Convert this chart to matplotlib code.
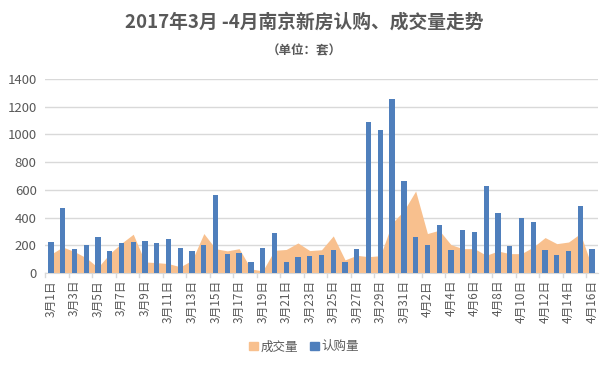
import matplotlib
matplotlib.use("Agg")
import matplotlib.pyplot as plt
import numpy as np
from matplotlib.patches import Patch

plt.rcParams['font.family'] = ['Noto Sans CJK SC', 'DejaVu Sans']

dates = [f"3月{d}日" for d in range(1, 32)] + [f"4月{d}日" for d in range(1, 17)]

subscribe = [222, 470, 175, 200, 258, 157, 215, 222, 229, 215, 244, 179, 157, 200,
             562, 135, 142, 77, 179, 287, 77, 113, 120, 128, 164, 77, 171, 1091,
             1033, 1258, 664,
             258, 200, 345, 164, 309, 295, 628, 432, 193, 396, 367, 164, 128, 157,
             483, 171]

deals = [135, 188, 155, 110, 40, 140, 215, 280, 80, 75, 68, 45, 92, 285, 175,
         160, 176, 30, 15, 164, 170, 217, 162, 168, 268, 95, 128, 118, 125, 360,
         450,
         592, 285, 309, 205, 176, 176, 128, 159, 140, 140, 188, 256, 212, 224,
         285, 40]

yticks = [0, 200, 400, 600, 800, 1000, 1200, 1400]

blue = '#4F7FBC'
orange = '#F8C08E'
txt = '#595959'

fig = plt.figure(figsize=(6.08, 3.66), dpi=100)
ax = fig.add_axes([0.074, 0.254, 0.9096, 0.530])

x = np.arange(len(dates))
ax.fill_between(x, deals, 0, color=orange, linewidth=0, zorder=2)
ax.bar(x, subscribe, width=0.45, color=blue, zorder=3)

ax.set_xlim(-0.5, len(dates) - 0.5)
ax.set_ylim(0, 1400)
ax.set_yticks(yticks)
ax.set_yticklabels([str(v) for v in yticks], color=txt, fontsize=9.5)
ax.yaxis.grid(True, color='#D9D9D9', linewidth=1, zorder=0)
ax.set_axisbelow(True)

ax.set_xticks(x[::2])
ax.set_xticklabels(dates[::2], rotation=90, color=txt, fontsize=8.5)
ax.tick_params(axis='x', length=0, pad=5)
ax.tick_params(axis='y', length=0, pad=6)
# boundary tick marks
for b in np.arange(-0.5, len(dates), 2):
    ax.plot([b, b], [0, -0.02], transform=ax.get_xaxis_transform(),
            color='#D9D9D9', linewidth=1, clip_on=False, zorder=1)

for s in ['top', 'right', 'left']:
    ax.spines[s].set_visible(False)
ax.spines['bottom'].set_color('#D9D9D9')

fig.text(0.5, 0.94, '2017年3月 -4月南京新房认购、成交量走势', ha='center', va='center',
         fontsize=13.5, fontweight='bold', color=txt)
fig.text(0.5, 0.86, '（单位：套）', ha='center', va='center',
         fontsize=9, fontweight='bold', color=txt)

handles = [Patch(color=orange, label='成交量'), Patch(color=blue, label='认购量')]
fig.legend(handles=handles, loc='center', bbox_to_anchor=(0.5, 0.052), ncol=2,
           frameon=False, fontsize=9, handlelength=0.7, handleheight=0.7,
           handletextpad=0.2, columnspacing=1.0, labelcolor=txt)

fig.savefig('out.png', dpi=100)
